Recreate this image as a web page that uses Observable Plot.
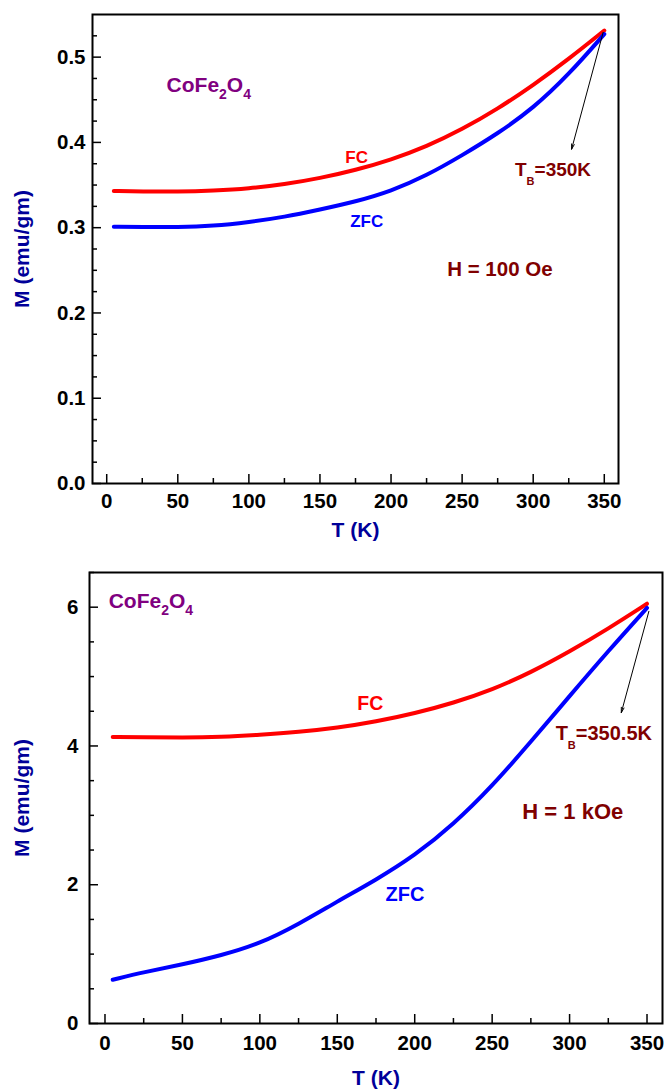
<!DOCTYPE html>
<html><head><meta charset="utf-8">
<script src="https://cdn.jsdelivr.net/npm/d3@7"></script>
<script src="https://cdn.jsdelivr.net/npm/@observablehq/plot@0.6"></script>
<style>
body{margin:0;background:#fff;}
svg{display:block;}
</style>
</head><body><div id="chart"></div>
<script>
// ---- data ----
const temps = [5, 25, 50, 75, 100, 125, 150, 175, 200, 225, 250, 275, 300, 325, 350];
const fc100Oe  = [0.343, 0.3425, 0.3423, 0.3435, 0.3458, 0.3508, 0.358, 0.3675, 0.3796, 0.3952, 0.4153, 0.4393, 0.4671, 0.4978, 0.5312];
const zfc100Oe = [0.301, 0.3008, 0.3005, 0.302, 0.3065, 0.3125, 0.3213, 0.3305, 0.3428, 0.3611, 0.3848, 0.4103, 0.440, 0.4795, 0.527];
const fc1kOe   = [4.13, 4.125, 4.12, 4.13, 4.16, 4.20, 4.26, 4.35, 4.47, 4.62, 4.81, 5.06, 5.36, 5.69, 6.05];
const zfc1kOe  = [0.63, 0.74, 0.85, 0.98, 1.15, 1.43, 1.76, 2.07, 2.42, 2.87, 3.42, 4.06, 4.72, 5.37, 5.99];

const xMajor = [0, 50, 100, 150, 200, 250, 300, 350];
const xMinor = [25, 75, 125, 175, 225, 275, 325];
const yMajorTop = [0, 0.1, 0.2, 0.3, 0.4, 0.5];
const yMinorTop = [0.025, 0.05, 0.075, 0.125, 0.15, 0.175, 0.225, 0.25, 0.275, 0.325, 0.35, 0.375, 0.425, 0.45, 0.475, 0.525];
const yMajorBottom = [0, 2, 4, 6];
const yMinorBottom = [0.5, 1, 1.5, 2.5, 3, 3.5, 4.5, 5, 5.5, 6.5];

const xTitle = "T (K)";
const yTitle = "M (emu/gm)";

// annotations: [T, M, text, color, fontSize]
const notesTop = [
  [42.1, 0.4588, "CoFe2O4", "#800080", 21],
  [167.8, 0.3755, "FC", "#ff0000", 17],
  [171.3, 0.3003, "ZFC", "#0000ff", 17],
  [287.2, 0.3602, "TB=350K", "#800000", 19],
  [239.5, 0.2437, "H = 100 Oe", "#800000", 20.5]
];
const notesBottom = [
  [2.4, 5.986, "CoFe2O4", "#800080", 21],
  [162.9, 4.516, "FC", "#ff0000", 19.5],
  [181.2, 1.762, "ZFC", "#0000ff", 20],
  [291, 4.085, "TB=350.5K", "#800000", 20],
  [269.5, 2.945, "H = 1 kOe", "#800000", 22]
];
const arrowTop = [{x1: 349.2, y1: 0.529, x2: 327.0, y2: 0.392}];
const arrowBottom = [{x1: 351.2, y1: 5.94, x2: 333.4, y2: 4.48}];

// subscript markup for rich labels
const richParts = {
  "CoFe2O4": [["CoFe", 0], ["2", 1], ["O", 0], ["4", 1]],
  "TB=350K": [["T", 0], ["B", 2], ["=350K", 0]],
  "TB=350.5K": [["T", 0], ["B", 2], ["=350.5K", 0]]
};

const FONT = "'Liberation Sans', Arial, Helvetica, sans-serif";
const NAVY = "#000099";

function panel(cfg) {
  const fc = temps.map((t, i) => ({T: t, M: cfg.fc[i]}));
  const zfc = temps.map((t, i) => ({T: t, M: cfg.zfc[i]}));
  const noteMarks = cfg.notes.map(([T, M, txt, color, size]) =>
    Plot.text([{T, M, txt}], {x: "T", y: "M", text: "txt", fill: color, fontSize: size,
      fontWeight: "bold", textAnchor: "start", lineAnchor: "bottom"}));
  const svg = Plot.plot({
    width: 665, height: cfg.height,
    marginLeft: cfg.ml, marginRight: cfg.mr, marginTop: cfg.mt, marginBottom: cfg.mb,
    style: {fontFamily: FONT, fontWeight: "bold", background: "white", color: "black", overflow: "visible"},
    x: {domain: [-10, 360]},
    y: {domain: cfg.yDomain},
    marks: [
      Plot.line(fc, {x: "T", y: "M", stroke: "#ff0000", strokeWidth: 4, curve: "basis"}),
      Plot.line(zfc, {x: "T", y: "M", stroke: "#0000ff", strokeWidth: 4, curve: "basis"}),
      Plot.axisX(xMajor, {tickSize: -9, fill: "none", strokeWidth: 1.5, label: null}),
      Plot.axisX(xMinor, {tickSize: -5, fill: "none", strokeWidth: 1.5, label: null}),
      Plot.axisX(xMajor, {tickSize: 0, tickPadding: cfg.xPad, fontSize: cfg.tickFont, label: null}),
      Plot.axisY(cfg.yMajor, {tickSize: -9, fill: "none", strokeWidth: 1.5, label: null}),
      Plot.axisY(cfg.yMinor, {tickSize: -5, fill: "none", strokeWidth: 1.5, label: null}),
      Plot.axisY(cfg.yMajor, {tickSize: 0, tickPadding: cfg.yPad, fontSize: cfg.tickFont, tickFormat: cfg.fmt, label: null, ariaLabel: "ylab"}),
      Plot.frame({stroke: "black", strokeWidth: 2}),
      Plot.text([xTitle], {frameAnchor: "bottom", lineAnchor: "bottom", textAnchor: "middle", dy: cfg.xTitleDy, fill: NAVY, fontSize: 21, fontWeight: "bold"}),
      Plot.text([yTitle], {frameAnchor: "left", lineAnchor: "bottom", textAnchor: "middle", rotate: -90, dx: cfg.yTitleDx, fill: NAVY, fontSize: 21, fontWeight: "bold"}),
      Plot.arrow(cfg.arrow, {x1: "x1", y1: "y1", x2: "x2", y2: "y2", stroke: "black", strokeWidth: 1, headLength: 8, headAngle: 30}),
      ...noteMarks
    ]
  });
  // rich text: subscripts as tspans (still real text)
  d3.select(svg).selectAll("text").each(function () {
    const t = this.textContent;
    const parts = richParts[t];
    if (!parts) return;
    const el = d3.select(this);
    el.text(null);
    let shift = 0;
    parts.forEach(([s, sub]) => {
      const target = sub === 1 ? 7 : sub === 2 ? 9 : 0;
      const ts = el.append("tspan").attr("dy", target - shift).text(s);
      if (sub === 1) ts.attr("font-size", 14);
      if (sub === 2) ts.attr("font-size", 11);
      shift = target;
    });
  });
  if (cfg.yLetterSpacing) {
    d3.select(svg).selectAll('g[aria-label="ylab"] text').attr("letter-spacing", cfg.yLetterSpacing);
  }
  return svg;
}

const topPanel = panel({
  height: 545, ml: 92, mr: 47, mt: 14, mb: 62,
  yDomain: [0, 0.55], fc: fc100Oe, zfc: zfc100Oe,
  yMajor: yMajorTop, yMinor: yMinorTop, fmt: d3.format(".1f"),
  tickFont: 20.5, xPad: 10, yPad: 7, yLetterSpacing: "3px", xTitleDy: 53, yTitleDx: -64,
  notes: notesTop, arrow: arrowTop
});
const bottomPanel = panel({
  height: 544, ml: 89, mr: 3, mt: 27, mb: 66,
  yDomain: [0, 6.5], fc: fc1kOe, zfc: zfc1kOe,
  yMajor: yMajorBottom, yMinor: yMinorBottom, fmt: d3.format("d"),
  tickFont: 20.5, xPad: 12, yPad: 11, xTitleDy: 61, yTitleDx: -61,
  notes: notesBottom, arrow: arrowBottom
});
document.getElementById("chart").append(topPanel, bottomPanel);
</script>
</body></html>
